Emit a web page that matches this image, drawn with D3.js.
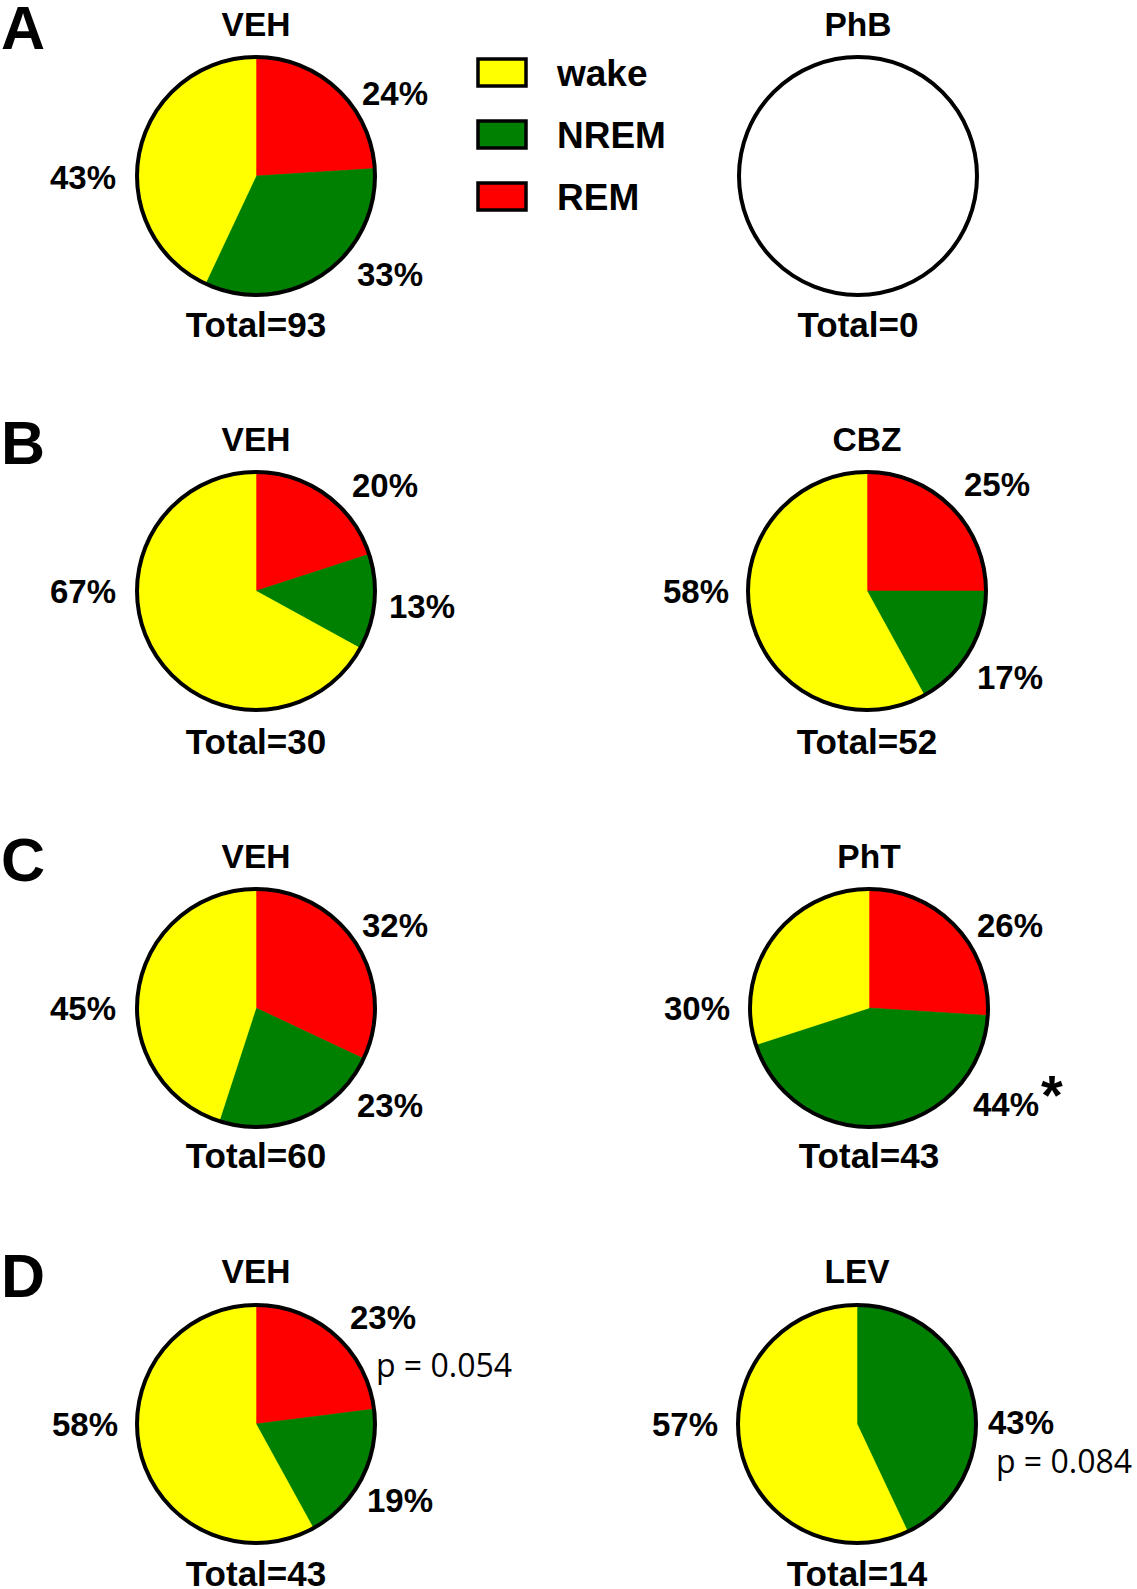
<!DOCTYPE html>
<html>
<head>
<meta charset="utf-8">
<script src="https://cdn.jsdelivr.net/npm/d3@7"></script>
<style>
  html, body { margin: 0; padding: 0; background: #fff; }
  svg { display: block; }
</style>
</head>
<body>
<svg id="chart" width="1137" height="1589"></svg>
<script>
// ---- data ----
const panelLetters = ["A", "B", "C", "D"];
const groupNames = ["VEH", "PhB", "VEH", "CBZ", "VEH", "PhT", "VEH", "LEV"];
const stateNames = ["REM", "NREM", "wake"];
const remPct  = [24, 0, 20, 25, 32, 26, 23, 0];
const nremPct = [33, 0, 13, 17, 23, 44, 19, 43];
const wakePct = [43, 0, 67, 58, 45, 30, 58, 57];
const totals  = [93, 0, 30, 52, 60, 43, 43, 14];
const pValues = [null, null, null, null, null, null, "p = 0.054", "p = 0.084"];
const starMarks = [null, null, null, null, null, "*", null, null];
const legendNames = ["wake", "NREM", "REM"];

// ---- layout ----
const colX = [[256, 858], [256, 867], [256, 869], [256, 857]];
const rowY = [176, 591, 1008, 1424];
const titleDy = [-152, -152.5, -152, -153];
const totalDy = [148.5, 150, 147, 149];
const R = 119;
const color = d3.scaleOrdinal().domain(stateNames)
  .range(["#ff0000", "#008000", "#ffff00"]);

// label offsets relative to pie centre, per chart, per state [REM, NREM, wake]
const labelOffsets = [
  [[139, -83], [134, 98], [-173, 1]],
  [null, null, null],
  [[129, -106], [166, 15], [-173, 0]],
  [[130, -107], [143, 86], [-171, 0]],
  [[139, -83], [134, 97], [-173, 0]],
  [[141, -83], [137, 96], [-172, 0]],
  [[127, -107], [144, 76], [-171, 0]],
  [null, [164, -2], [-172, 0]]
];
const pOffsets = [null, null, null, null, null, null, [188, -58], [207, 38]];
const starOffsets = [null, null, null, null, null, [183, 77], null, null];

const svg = d3.select("#chart");
const FONT = "'Liberation Sans', Arial, Helvetica, sans-serif";

const pie = d3.pie().sort(null).value(d => d.v);
const arc = d3.arc().innerRadius(0).outerRadius(R);

// panel letters
svg.selectAll("text.panel").data(panelLetters).join("text")
  .attr("class", "panel")
  .attr("x", 1)
  .attr("y", (d, i) => rowY[i] - 127)
  .attr("font-family", FONT).attr("font-weight", "bold")
  .attr("font-size", 61)
  .text(d => d);

groupNames.forEach((name, i) => {
  const row = Math.floor(i / 2), col = i % 2;
  const cx = colX[row][col], cy = rowY[row];
  const g = svg.append("g").attr("transform", `translate(${cx},${cy})`);
  const vals = [remPct[i], nremPct[i], wakePct[i]];
  const slices = stateNames.map((s, k) => ({ s, v: vals[k] }));
  const sum = d3.sum(vals);

  if (sum > 0) {
    g.selectAll("path.slice").data(pie(slices)).join("path")
      .attr("class", "slice")
      .attr("d", arc)
      .attr("fill", d => color(d.data.s))
      .attr("stroke", d => color(d.data.s))
      .attr("stroke-width", 0.6);
  }
  g.append("circle").attr("r", R)
    .attr("fill", "none").attr("stroke", "#000").attr("stroke-width", 4);

  // title
  g.append("text").attr("x", 0).attr("y", titleDy[row] + 12)
    .attr("text-anchor", "middle")
    .attr("font-family", FONT).attr("font-weight", "bold").attr("font-size", 33.5)
    .text(name);

  // total
  g.append("text").attr("x", 0).attr("y", totalDy[row] + 12.5)
    .attr("text-anchor", "middle")
    .attr("font-family", FONT).attr("font-weight", "bold").attr("font-size", 35)
    .text("Total=" + totals[i]);

  // percentage labels
  slices.forEach((sl, k) => {
    if (sl.v > 0 && labelOffsets[i][k]) {
      const [dx, dy] = labelOffsets[i][k];
      g.append("text").attr("x", dx).attr("y", dy + 11.5)
        .attr("text-anchor", "middle")
        .attr("font-family", FONT).attr("font-weight", "bold").attr("font-size", 33)
        .text(sl.v + "%");
    }
  });

  if (pValues[i]) {
    const [dx, dy] = pOffsets[i];
    g.append("text").attr("x", dx).attr("y", dy + 11)
      .attr("text-anchor", "middle")
      .attr("font-family", "'Open Sans', sans-serif").attr("font-size", 32)
      .text(pValues[i]);
  }
  if (starMarks[i]) {
    const [dx, dy] = starOffsets[i];
    g.append("text").attr("x", dx).attr("y", dy + 29)
      .attr("text-anchor", "middle")
      .attr("font-family", FONT).attr("font-weight", "bold").attr("font-size", 56)
      .text(starMarks[i]);
  }
});

// legend
const legend = svg.append("g").attr("transform", "translate(478,59)");
const lg = legend.selectAll("g").data(legendNames).join("g")
  .attr("transform", (d, i) => `translate(0,${i * 62})`);
lg.append("rect").attr("width", 48).attr("height", 27)
  .attr("fill", d => color(d)).attr("stroke", "#000").attr("stroke-width", 3.5);
lg.append("text").attr("x", 79).attr("y", 27)
  .attr("font-family", FONT).attr("font-weight", "bold").attr("font-size", 37)
  .text(d => d);
</script>
</body>
</html>
